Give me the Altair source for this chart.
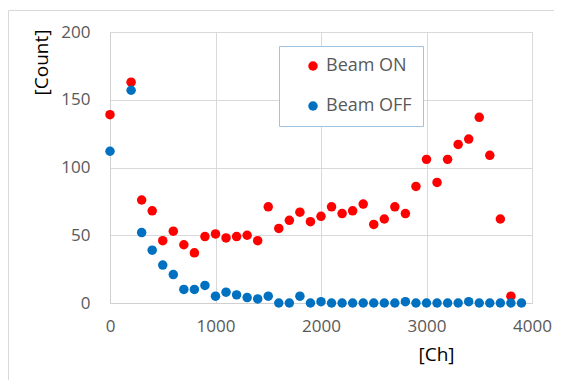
import altair as alt
import pandas as pd

# Beam ON channels / counts
ch_on = [0, 200, 300, 400, 500, 600, 700, 800, 900, 1000, 1100, 1200, 1300, 1400,
         1500, 1600, 1700, 1800, 1900, 2000, 2100, 2200, 2300, 2400, 2500, 2600,
         2700, 2800, 2900, 3000, 3100, 3200, 3300, 3400, 3500, 3600, 3700, 3800]
count_on = [139, 163, 76, 68, 46, 53, 43, 37, 49, 51, 48, 49, 50, 46,
            71, 55, 61, 67, 60, 64, 71, 66, 68, 73, 58, 62,
            71, 66, 86, 106, 89, 106, 117, 121, 137, 109, 62, 5]

# Beam OFF channels / counts
ch_off = [0, 200, 300, 400, 500, 600, 700, 800, 900, 1000, 1100, 1200, 1300, 1400,
          1500, 1600, 1700, 1800, 1900, 2000, 2100, 2200, 2300, 2400, 2500, 2600,
          2700, 2800, 2900, 3000, 3100, 3200, 3300, 3400, 3500, 3600, 3700, 3800, 3900]
count_off = [112, 157, 52, 39, 28, 21, 10, 10, 13, 5, 8, 6, 4, 3,
             5, 0, 0, 5, 0, 1, 0, 0, 0, 0, 0, 0,
             0, 1, 0, 0, 0, 0, 0, 1, 0, 0, 0, 0, 0]

series = ["Beam ON", "Beam OFF"]
colors = ["#FF0000", "#0070C0"]
x_ticks = [0, 1000, 2000, 3000, 4000]
y_ticks = [0, 50, 100, 150, 200]

df = pd.concat([
    pd.DataFrame({"ch": ch_on, "count": count_on, "series": series[0]}),
    pd.DataFrame({"ch": ch_off, "count": count_off, "series": series[1]}),
], ignore_index=True)

FONT = "Open Sans"

points = alt.Chart(df).mark_point(filled=True, size=90, opacity=1, shape="circle").encode(
    x=alt.X("ch:Q",
            scale=alt.Scale(domain=[0, 4000], nice=False),
            axis=alt.Axis(values=x_ticks, title="[Ch]", titleX=326, titleY=51,
                          titleAlign="center", titleBaseline="middle",
                          labelPadding=15, labelFlush=False, format="d")),
    y=alt.Y("count:Q",
            scale=alt.Scale(domain=[0, 200], nice=False),
            axis=alt.Axis(values=y_ticks, title="[Count]", titleX=-69, titleY=30,
                          titleAngle=270, titleAlign="center", titleBaseline="middle",
                          labelPadding=20, labelFlush=False)),
    color=alt.Color("series:N",
                    scale=alt.Scale(domain=series, range=colors),
                    legend=alt.Legend(title=None, orient="none", legendX=169, legendY=14,
                                      strokeColor="#9DC3E6", fillColor="white",
                                      padding=11, symbolOffset=14, rowPadding=22,
                                      labelFontSize=18, labelColor="#595959",
                                      labelFont=FONT, symbolType="circle", symbolSize=90,
                                      labelOffset=4,
                                      labelExpr="datum.label + '\u00a0'")),
    order=alt.Order("idx:Q"),
).transform_calculate(idx="datum.series == 'Beam ON' ? 0 : 1")

frame_df = pd.DataFrame({"a": [0]})
frame_left = alt.Chart(frame_df).mark_rule(color="#D9D9D9", strokeWidth=1).encode(
    x=alt.value(-101.5), y=alt.value(-21.5), y2=alt.value(400))
frame_top = alt.Chart(frame_df).mark_rule(color="#D9D9D9", strokeWidth=1).encode(
    x=alt.value(-101.5), x2=alt.value(600), y=alt.value(-21.5))

chart = alt.layer(frame_left, frame_top, points).properties(
    width=422, height=271,
    padding={"left": 102, "top": 24, "right": 22, "bottom": 77},
    autosize=alt.AutoSizeParams(type="none"),
).configure_view(stroke=None).configure_axis(
    labelFont=FONT, labelFontSize=17, labelColor="#595959",
    titleFont=FONT, titleFontSize=19, titleColor="#000000", titleFontWeight="normal",
    gridColor="#D9D9D9", domainColor="#D0D0D0", ticks=False,
)

chart.save("out.html", embed_options={"renderer": "svg", "actions": False})
